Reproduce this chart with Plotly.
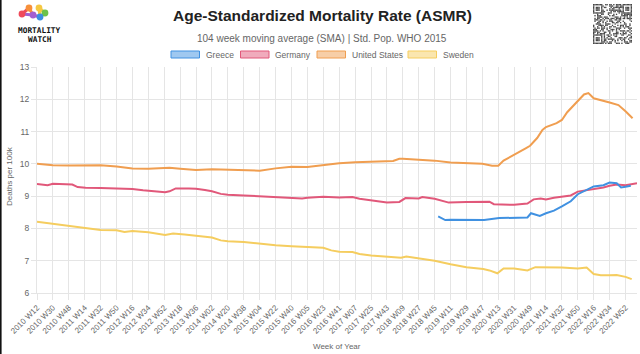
import base64
import datetime
import hashlib
import plotly.graph_objects as go

# ---------------- data ----------------
first_week = "2010 W12"
last_week = "2023 W13"

tick_labels = ["2010 W12", "2010 W30", "2010 W48", "2011 W14", "2011 W32", "2011 W50",
               "2012 W16", "2012 W34", "2012 W52", "2013 W18", "2013 W36", "2014 W02",
               "2014 W20", "2014 W38", "2015 W04", "2015 W22", "2015 W40", "2016 W05",
               "2016 W23", "2016 W41", "2017 W07", "2017 W25", "2017 W43", "2018 W09",
               "2018 W27", "2018 W45", "2019 W11", "2019 W29", "2019 W47", "2020 W13",
               "2020 W31", "2020 W49", "2021 W14", "2021 W32", "2021 W50", "2022 W16",
               "2022 W34", "2022 W52"]

greece = [("2018 W49", 8.37), ("2019 W05", 8.26), ("2019 W11", 8.27), ("2019 W29", 8.27),
          ("2019 W49", 8.26), ("2020 W14", 8.32), ("2020 W31", 8.32), ("2020 W46", 8.34),
          ("2020 W50", 8.47), ("2020 W53", 8.45), ("2021 W07", 8.39), ("2021 W14", 8.47),
          ("2021 W23", 8.55), ("2021 W32", 8.68), ("2021 W42", 8.84), ("2021 W50", 9.06),
          ("2022 W05", 9.16), ("2022 W16", 9.30), ("2022 W27", 9.34), ("2022 W34", 9.42),
          ("2022 W42", 9.40), ("2022 W47", 9.27), ("2022 W52", 9.29), ("2023 W06", 9.32)]

germany = [("2010 W12", 9.38), ("2010 W20", 9.35), ("2010 W24", 9.34), ("2010 W30", 9.38),
           ("2010 W52", 9.36), ("2011 W06", 9.28), ("2011 W15", 9.26), ("2011 W32", 9.25),
           ("2011 W50", 9.23), ("2012 W16", 9.22), ("2012 W28", 9.18), ("2012 W38", 9.15),
           ("2013 W01", 9.12), ("2013 W06", 9.15), ("2013 W13", 9.24), ("2013 W28", 9.24),
           ("2013 W36", 9.23), ("2013 W46", 9.19), ("2014 W02", 9.15), ("2014 W12", 9.07),
           ("2014 W20", 9.04), ("2014 W38", 9.02), ("2015 W04", 8.99), ("2015 W22", 8.96),
           ("2015 W40", 8.95), ("2015 W52", 8.93), ("2016 W05", 8.95), ("2016 W23", 8.98),
           ("2016 W41", 8.96), ("2017 W04", 8.97), ("2017 W12", 8.92), ("2017 W25", 8.86),
           ("2017 W43", 8.80), ("2018 W05", 8.82), ("2018 W12", 8.94), ("2018 W27", 8.93),
           ("2018 W31", 8.97), ("2018 W45", 8.92), ("2019 W09", 8.80), ("2019 W29", 8.82),
           ("2019 W47", 8.84), ("2020 W03", 8.83), ("2020 W08", 8.75), ("2020 W14", 8.74),
           ("2020 W31", 8.73), ("2020 W46", 8.77), ("2020 W53", 8.90), ("2021 W08", 8.93),
           ("2021 W14", 8.90), ("2021 W23", 8.95), ("2021 W32", 8.98), ("2021 W42", 9.02),
           ("2021 W50", 9.14), ("2022 W05", 9.17), ("2022 W16", 9.21), ("2022 W27", 9.27),
           ("2022 W34", 9.32), ("2022 W42", 9.36), ("2022 W52", 9.34), ("2023 W07", 9.38),
           ("2023 W13", 9.40)]

united_states = [("2010 W12", 10.00), ("2010 W30", 9.96), ("2010 W48", 9.95), ("2011 W14", 9.96),
                 ("2011 W32", 9.96), ("2011 W50", 9.92), ("2012 W16", 9.86), ("2012 W34", 9.85),
                 ("2012 W52", 9.86), ("2013 W06", 9.88), ("2013 W18", 9.85), ("2013 W36", 9.81),
                 ("2014 W02", 9.83), ("2014 W20", 9.82), ("2014 W38", 9.81), ("2015 W04", 9.79),
                 ("2015 W22", 9.86), ("2015 W40", 9.91), ("2016 W05", 9.90), ("2016 W23", 9.96),
                 ("2016 W41", 10.02), ("2017 W07", 10.05), ("2017 W25", 10.07), ("2017 W43", 10.08),
                 ("2017 W50", 10.09), ("2018 W05", 10.16), ("2018 W09", 10.16), ("2018 W27", 10.13),
                 ("2018 W45", 10.10), ("2019 W11", 10.04), ("2019 W29", 10.03), ("2019 W47", 10.00),
                 ("2020 W06", 9.94), ("2020 W13", 9.94), ("2020 W19", 10.10), ("2020 W31", 10.27),
                 ("2020 W44", 10.48), ("2020 W49", 10.56), ("2021 W04", 10.80), ("2021 W10", 11.05),
                 ("2021 W14", 11.14), ("2021 W26", 11.26), ("2021 W32", 11.36), ("2021 W38", 11.60),
                 ("2021 W50", 11.95), ("2022 W05", 12.15), ("2022 W10", 12.19), ("2022 W16", 12.03),
                 ("2022 W34", 11.90), ("2022 W44", 11.82), ("2022 W52", 11.63), ("2023 W08", 11.41)]

sweden = [("2010 W12", 8.21), ("2010 W30", 8.14), ("2010 W48", 8.08), ("2011 W15", 8.00),
          ("2011 W32", 7.95), ("2011 W50", 7.94), ("2012 W07", 7.89), ("2012 W16", 7.92),
          ("2012 W34", 7.88), ("2013 W01", 7.80), ("2013 W10", 7.84), ("2013 W23", 7.81),
          ("2013 W36", 7.78), ("2014 W02", 7.72), ("2014 W12", 7.63), ("2014 W20", 7.60),
          ("2014 W38", 7.58), ("2015 W04", 7.52), ("2015 W22", 7.48), ("2015 W40", 7.45),
          ("2016 W05", 7.42), ("2016 W23", 7.40), ("2016 W32", 7.32), ("2016 W41", 7.28),
          ("2017 W04", 7.27), ("2017 W12", 7.21), ("2017 W25", 7.16), ("2017 W43", 7.12),
          ("2018 W07", 7.09), ("2018 W13", 7.13), ("2018 W27", 7.07), ("2018 W45", 7.00),
          ("2019 W11", 6.89), ("2019 W29", 6.80), ("2019 W48", 6.74), ("2020 W03", 6.70),
          ("2020 W12", 6.61), ("2020 W19", 6.76), ("2020 W31", 6.76), ("2020 W46", 6.70),
          ("2021 W02", 6.80), ("2021 W14", 6.80), ("2021 W32", 6.79), ("2021 W50", 6.76),
          ("2022 W08", 6.79), ("2022 W16", 6.59), ("2022 W24", 6.55), ("2022 W34", 6.55),
          ("2022 W42", 6.56), ("2022 W52", 6.50), ("2023 W07", 6.43)]

series_names = ["Greece", "Germany", "United States", "Sweden"]
series_data = [greece, germany, united_states, sweden]
series_colors = ["#4091e1", "#e1587a", "#f09e50", "#f5cd5f"]
series_fill = ["rgba(64,145,225,0.5)", "rgba(225,88,122,0.5)",
               "rgba(240,158,80,0.5)", "rgba(245,205,95,0.5)"]


# ---------------- categories (ISO weeks) ----------------
def parse_week(lbl):
    y, w = lbl.split(" W")
    return datetime.date.fromisocalendar(int(y), int(w), 1)


def week_range(a, b):
    d, end = parse_week(a), parse_week(b)
    out = []
    while d <= end:
        y, w, _ = d.isocalendar()
        out.append(f"{y} W{w:02d}")
        d += datetime.timedelta(weeks=1)
    return out


weeks = week_range(first_week, last_week)

# ---------------- geometry helpers (pixels -> paper) ----------------
W, H = 640, 354
L, R, T, B = 37, 3, 67, 61
PW, PH = W - L - R, H - T - B


def px(x):
    return (x - L) / PW


def py(y):
    return (H - B - y) / PH


FONT = "Liberation Sans, Arial, Helvetica, sans-serif"
GRID = "#e5e5e5"

fig = go.Figure()
for name, data, color in reversed(list(zip(series_names, series_data, series_colors))):
    fig.add_trace(go.Scatter(
        x=[d[0] for d in data], y=[d[1] for d in data], name=name, mode="lines",
        line=dict(color=color, width=2), showlegend=False))

fig.update_layout(
    width=W, height=H, autosize=False,
    margin=dict(l=L, r=R, t=T, b=B, pad=0),
    paper_bgcolor="white", plot_bgcolor="white",
    font=dict(family=FONT, color="#666666", size=8),
    xaxis=dict(type="category", categoryorder="array", categoryarray=weeks,
               range=[0, len(weeks) - 1], tickmode="array", tickvals=tick_labels,
               ticktext=tick_labels, tickangle=-45, showgrid=True, gridcolor=GRID,
               gridwidth=1, ticks="outside", ticklen=6, tickcolor=GRID,
               showline=True, linecolor=GRID, tickfont=dict(size=8, color="#666666"),
               zeroline=False),
    yaxis=dict(range=[6, 13], tickvals=list(range(6, 14)), showgrid=True, gridcolor=GRID,
               ticks="outside", ticklen=5, tickcolor=GRID, showline=True, linecolor=GRID,
               tickfont=dict(size=8.5, color="#666666"), zeroline=False),
)

ann = []
ann.append(dict(text="<b>Age-Standardized Mortality Rate (ASMR)</b>", x=px(322), y=py(15.5),
                xref="paper", yref="paper", showarrow=False, xanchor="center", yanchor="middle",
                font=dict(size=15.5, color="#222222", family=FONT)))
ann.append(dict(text="104 week moving average (SMA) | Std. Pop. WHO 2015", x=px(322), y=py(38.3),
                xref="paper", yref="paper", showarrow=False, xanchor="center", yanchor="middle",
                font=dict(size=10, color="#666666", family=FONT)))
ann.append(dict(text="Deaths per 100k", x=px(9), y=py(176), xref="paper", yref="paper",
                showarrow=False, textangle=-90, xanchor="center", yanchor="middle",
                font=dict(size=8, color="#666666", family=FONT)))
ann.append(dict(text="Week of Year", x=px(337), y=py(346), xref="paper", yref="paper",
                showarrow=False, xanchor="center", yanchor="middle",
                font=dict(size=8, color="#666666", family=FONT)))

shapes = []
# legend (manual, Chart.js style boxes)
legend_x = [171, 240.5, 317, 408]
for name, x0, col, fill in zip(series_names, legend_x, series_colors, series_fill):
    shapes.append(dict(type="rect", xref="paper", yref="paper", x0=px(x0), x1=px(x0 + 28.5),
                       y0=py(58), y1=py(51), fillcolor=fill, line=dict(color=col, width=1)))
    ann.append(dict(text=name, x=px(x0 + 32.5), y=py(54.5), xref="paper", yref="paper",
                    showarrow=False, xanchor="left", yanchor="middle",
                    font=dict(size=8.5, color="#666666", family=FONT)))

# left dark border of the screenshot
shapes.append(dict(type="rect", xref="paper", yref="paper", x0=px(0), x1=px(1.6), y0=py(H), y1=py(0),
                   fillcolor="#111111", line=dict(width=0)))

# logo icon (molecule of coloured dots)
dots = [((22, 14), "#ef4a5a"), ((29, 8), "#f7903a"), ((33, 15), "#a35fd0"),
        ((39, 8), "#f5c842"), ((45, 13), "#6cc24a"), ((40, 17), "#3c8fe0")]
links = [(0, 1), (1, 2), (2, 0), (2, 5), (3, 4), (4, 5), (3, 5)]
for a, b in links:
    (xa, ya), ca = dots[a]
    (xb, yb), _ = dots[b]
    shapes.append(dict(type="line", xref="paper", yref="paper", x0=px(xa), y0=py(ya),
                       x1=px(xb), y1=py(yb), line=dict(color=ca, width=3)))
for (x, y), c in dots:
    r = 3.4
    shapes.append(dict(type="circle", xref="paper", yref="paper", x0=px(x - r), x1=px(x + r),
                       y0=py(y + r), y1=py(y - r), fillcolor=c, line=dict(width=0)))
ann.append(dict(text="<b>MORTALITY</b>", x=px(39.5), y=py(30.5), xref="paper", yref="paper",
                showarrow=False, xanchor="center", yanchor="middle",
                font=dict(size=7.8, color="#111111", family="DejaVu Sans Mono")))
ann.append(dict(text="<b>WATCH</b>", x=px(39.5), y=py(40), xref="paper", yref="paper",
                showarrow=False, xanchor="center", yanchor="middle",
                font=dict(size=7.8, color="#111111", family="DejaVu Sans Mono")))

# QR-code-like decoration (deterministic pattern)
N = 29
bits = "".join(f"{b:08b}" for i in range(12) for b in hashlib.sha256(f"mw{i}".encode()).digest())
cells = []
for r_ in range(N):
    for c_ in range(N):
        def finder(rr, cc):
            if 0 <= rr < 7 and 0 <= cc < 7:
                return rr in (0, 6) or cc in (0, 6) or (2 <= rr <= 4 and 2 <= cc <= 4)
            return None
        f = None
        for (ro, co) in [(0, 0), (0, N - 7), (N - 7, 0)]:
            v = finder(r_ - ro, c_ - co)
            if v is not None:
                f = v
        dark = f if f is not None else bits[r_ * N + c_] == "1"
        if dark:
            cells.append(f'<rect x="{c_}" y="{r_}" width="1" height="1"/>')
svg = (f'<svg xmlns="http://www.w3.org/2000/svg" viewBox="0 0 {N} {N}">'
       f'<rect width="{N}" height="{N}" fill="white"/><g fill="#333">' + "".join(cells) + "</g></svg>")
qr_src = "data:image/svg+xml;base64," + base64.b64encode(svg.encode()).decode()

fig.update_layout(
    annotations=ann, shapes=shapes,
    images=[dict(source=qr_src, xref="paper", yref="paper", x=px(593), y=py(4),
                 sizex=39 / PW, sizey=40 / PH, xanchor="left", yanchor="top",
                 sizing="stretch", layer="above", opacity=0.9)])

fig.write_html("out.html")
